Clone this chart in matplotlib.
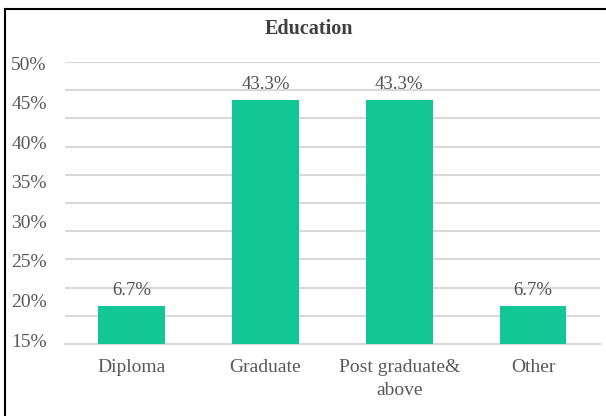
import numpy as np
import matplotlib.pyplot as plt
from matplotlib.lines import Line2D
from matplotlib.ticker import MultipleLocator

# data
categories = ["Diploma", "Graduate", "Post graduate&\nabove", "Other"]
shares = [6.7, 43.3, 43.3, 6.7]
tick_labels = ["50%", "45%", "40%", "35%", "30%", "25%", "20%", "15%"]

plt.rcParams['font.family'] = ['Liberation Serif', 'DejaVu Serif']

fig = plt.figure(figsize=(6.06, 4.16), dpi=100)
ax = fig.add_axes([0.107, 0.173, 0.883, 0.678])

x = np.arange(len(categories))
values = np.array(shares) / 100
bars = ax.bar(x, values, width=0.5, color='#12C795', zorder=3)

for b, v in zip(bars, shares):
    ax.annotate(f"{v:.1f}%", (b.get_x() + b.get_width() / 2, b.get_height()),
                xytext=(0, 5), textcoords='offset points', ha='center', va='bottom',
                fontsize=13.5, color='#505050')

ax.set_xlim(-0.5, len(categories) - 0.5)
ax.set_ylim(0, 0.5)
ax.set_xticks(x)
ax.set_xticklabels(categories, fontsize=14, color='#595959', linespacing=1.4)
ax.tick_params(axis='x', length=0, pad=11)

# tick labels as shown in the reference (they don't line up with the gridlines)
ax.set_yticks(np.linspace(0.498, 0.007, len(tick_labels)))
ax.set_yticklabels(tick_labels, fontsize=14, color='#595959')
ax.tick_params(axis='y', which='both', length=0, pad=13)
ax.yaxis.set_minor_locator(MultipleLocator(0.05))
ax.grid(axis='y', which='minor', color='#D9D9D9', linewidth=1.5, zorder=0)
ax.grid(axis='y', which='major', visible=False)

for s in ['top', 'right', 'left']:
    ax.spines[s].set_visible(False)
ax.spines['bottom'].set_color('#D9D9D9')
ax.spines['bottom'].set_linewidth(1.5)

fig.text(0.51, 0.93, "Education", ha='center', va='center', fontsize=14.5,
         fontweight='bold', color='#404040')

# outer frame
fig.add_artist(Line2D([0.008, 0.008], [0.978, 0.0], color='black', lw=1.5,
                      transform=fig.transFigure))
fig.add_artist(Line2D([0.008, 1.0], [0.978, 0.978], color='black', lw=1.5,
                      transform=fig.transFigure))

fig.savefig("out.png", dpi=100)
